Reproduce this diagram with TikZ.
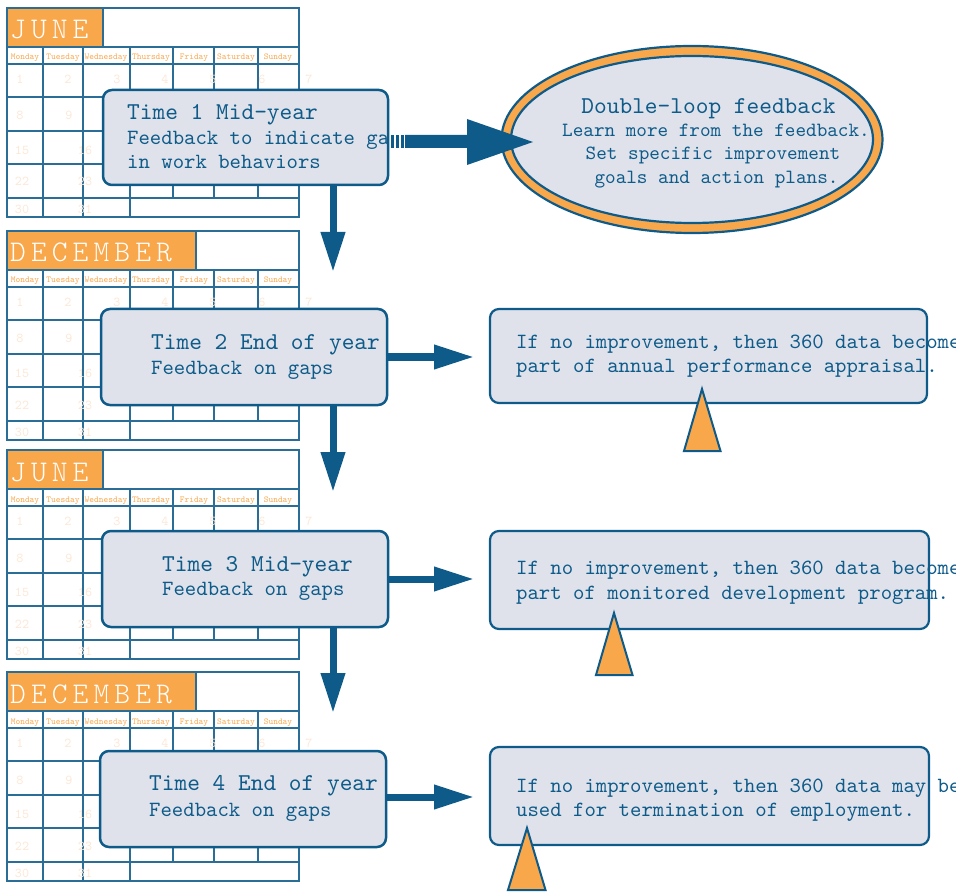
\documentclass[tikz,border=0pt]{standalone}
\usepackage{fontspec}
\newfontfamily\lmm{lmmono10-regular.otf}
\newfontfamily\monthfont[LetterSpace=17]{lmmonolt10-regular.otf}
\usetikzlibrary{arrows.meta,shapes.geometric}
\definecolor{dblue}{HTML}{0E5B8A}
\definecolor{gridblue}{HTML}{2A6E98}
\definecolor{calorange}{HTML}{F9A74B}
\definecolor{boxfill}{HTML}{DFE2EA}
\definecolor{peach}{HTML}{FDE8D6}
\tikzset{
 gridline/.style={draw=gridblue, line width=1.8pt},
 dayname/.style={font=\lmm\fontsize{9}{9}\selectfont, text=calorange, inner sep=0, anchor=base},
 daynum/.style={font=\lmm\fontsize{13.5}{13.5}\selectfont, text=peach, inner sep=0, anchor=base},
 monthlabel/.style={font=\monthfont\fontsize{30}{30}\selectfont, text=white, inner sep=0, anchor=base west},
 mainbox/.style={draw=dblue, fill=boxfill, line width=2.5pt, rounded corners=9pt, inner sep=0, outer sep=0},
 sidebox/.style={draw=dblue, fill=boxfill, line width=2.2pt, rounded corners=9pt, inner sep=0, outer sep=0},
 titletext/.style={font=\lmm\fontsize{24.2}{24.2}\selectfont, text=dblue, inner sep=0, anchor=base west},
 bodytext/.style={font=\lmm\fontsize{21.7}{21.7}\selectfont, text=dblue, inner sep=0, anchor=base west},
 elltitle/.style={font=\lmm\fontsize{24.2}{24.2}\selectfont, text=dblue, inner sep=0, anchor=base},
 elltext/.style={font=\lmm\fontsize{20.2}{20.2}\selectfont, text=dblue, inner sep=0, anchor=base},
 flowarrow/.style={draw=dblue, line width=7pt, -{Triangle[width=23pt,length=40pt]}},
 pointer/.style={draw=dblue, fill=calorange, line width=2pt, line join=miter},
}
\newcommand\drawcal[4]{% #1 top y, #2 month, #3 orange right x, #4 name prefix
 \begin{scope}[shift={(0,#1)}, name prefix=#4-]
  \fill[calorange] (7,0) rectangle (#3,39);
  \draw[gridline] (#3,0) -- (#3,39);
  \foreach \yy in {39,56,89,123,156,190} \draw[gridline] (7,\yy) -- (299,\yy);
  \foreach \xx in {43,83,130} \draw[gridline] (\xx,39) -- (\xx,209);
  \foreach \xx in {173,214,258} \draw[gridline] (\xx,39) -- (\xx,190);
  \draw[gridline] (7,0) rectangle (299,209);
  \node[monthlabel] (month) at (10,31) {#2};
  \foreach \xx/\dd in {25/Monday,63/Tuesday,106/Wednesday,151/Thursday,194/Friday,236/Saturday,278/Sunday}
    \node[dayname] (dn\xx) at (\xx,52) {\dd};
  \foreach \xx/\nn in {20/1,68/2,117/3,165/4,213/5,262/6,309/7}
    \node[daynum] (n\nn) at (\xx,75.3) {\nn};
  \foreach \xx/\nn in {20/8,69/9}
    \node[daynum] (n\nn) at (\xx,112) {\nn};
  \foreach \nn/\yy in {15/146.3,22/178,30/205.3}
    \node[daynum] (n\nn) at (22,\yy) {\nn};
  \foreach \nn/\yy in {16/146.3,23/178,31/205.3}
    \node[daynum] (n\nn) at (85,\yy) {\nn};
 \end{scope}
}
\begin{document}
\begin{tikzpicture}[x=1pt,y=-1pt]
\useasboundingbox (0,0) rectangle (956,893);
\clip (0,0) rectangle (956,893);
\fill[white] (0,0) rectangle (956,893);

% calendars
\drawcal{8}{JUNE}{103}{c1}
\drawcal{231}{DECEMBER}{196}{c2}
\drawcal{450}{JUNE}{103}{c3}
\drawcal{672}{DECEMBER}{196}{c4}

% main boxes
\node[mainbox, minimum width=285pt, minimum height=95pt] (b1) at (245.5,137.5) {};
\node[mainbox, minimum width=286pt, minimum height=96pt] (b2) at (244,357) {};
\node[mainbox, minimum width=286pt, minimum height=96pt] (b3) at (245,579) {};
\node[mainbox, minimum width=286pt, minimum height=96pt] (b4) at (243,799) {};

% down arrows
\coordinate (d1) at (333,272);
\coordinate (d2) at (333,492);
\coordinate (d3) at (333,713);
\draw[flowarrow] (b1.south -| d1) -- (d1);
\draw[flowarrow] (b2.south -| d2) -- (d2);
\draw[flowarrow] (b3.south -| d3) -- (d3);

% main box texts
\node[titletext] (t1a) at (127,119.5) {Time 1 Mid-year};
\node[bodytext] (t1b) at (127,145) {Feedback to indicate ga};
\node[bodytext] (t1c) at (127,169) {in work behaviors};
\node[titletext] (t2a) at (151,349.3) {Time 2 End of year};
\node[bodytext] (t2b) at (151,374) {Feedback on gaps};
\node[titletext] (t3a) at (162,571) {Time 3 Mid-year};
\node[bodytext] (t3b) at (162,595.7) {Feedback on gaps};
\node[titletext] (t4a) at (149,790.7) {Time 4 End of year};
\node[bodytext] (t4b) at (149,816) {Feedback on gaps};

% double-loop ellipse
\node[ellipse, draw=dblue, fill=calorange, line width=2.2pt, inner sep=0, outer sep=0,
      minimum width=381pt, minimum height=187pt] (ell) at (692,139.5) {};
\node[ellipse, draw=dblue, fill=boxfill, line width=2.2pt, inner sep=0, outer sep=0,
      minimum width=362pt, minimum height=167pt] (ellin) at (692,139.5) {};
\node[elltitle] (e1) at (708.5,113.3) {Double-loop feedback};
\node[elltext] (e2) at (716,136.7) {Learn more from the feedback.};
\node[elltext] (e3) at (713,160) {Set specific improvement};
\node[elltext] (e4) at (716.5,183.3) {goals and action plans.};

% striped arrow from box 1 to ellipse
\coordinate (s0) at (391,135);
\coordinate (tip) at (533,142);
\fill[dblue] (s0) rectangle ++(3,13);
\fill[dblue] (396,135) rectangle ++(3,13);
\fill[dblue] (401,135) rectangle ++(2.5,13);
\fill[dblue] (405,135) -- (467,135) -- (467,119) -- (tip) -- (467,165) -- (467,148) -- (405,148) -- cycle;

% side boxes
\node[sidebox, minimum width=437pt, minimum height=94pt] (r2) at (708.5,356) {};
\node[sidebox, minimum width=439pt, minimum height=98pt] (r3) at (709.5,580) {};
\node[sidebox, minimum width=439pt, minimum height=98pt] (r4) at (709.5,796) {};

\coordinate (a2) at (474,357);
\coordinate (a3) at (474,579);
\coordinate (a4) at (474,797);
\draw[flowarrow] (b2.east |- a2) -- (a2);
\draw[flowarrow] (b3.east |- a3) -- (a3);
\draw[flowarrow] (b4.east |- a4) -- (a4);

\node[bodytext] (r2a) at (516,348.3) {If no improvement, then 360 data becomes};
\node[bodytext] (r2b) at (516,372.7) {part of annual performance appraisal.};
\node[bodytext] (r3a) at (516,574.5) {If no improvement, then 360 data becomes};
\node[bodytext] (r3b) at (516,599) {part of monitored development program.};
\node[bodytext] (r4a) at (516,792.3) {If no improvement, then 360 data may be};
\node[bodytext] (r4b) at (516,816.7) {used for termination of employment.};

% orange pointers
\draw[pointer] (702,389) -- (720.5,451) -- (684,451) -- cycle;
\draw[pointer] (614,613) -- (632.5,675) -- (596,675) -- cycle;
\draw[pointer] (527,828) -- (545.5,890) -- (508,890) -- cycle;
\end{tikzpicture}
\end{document}
